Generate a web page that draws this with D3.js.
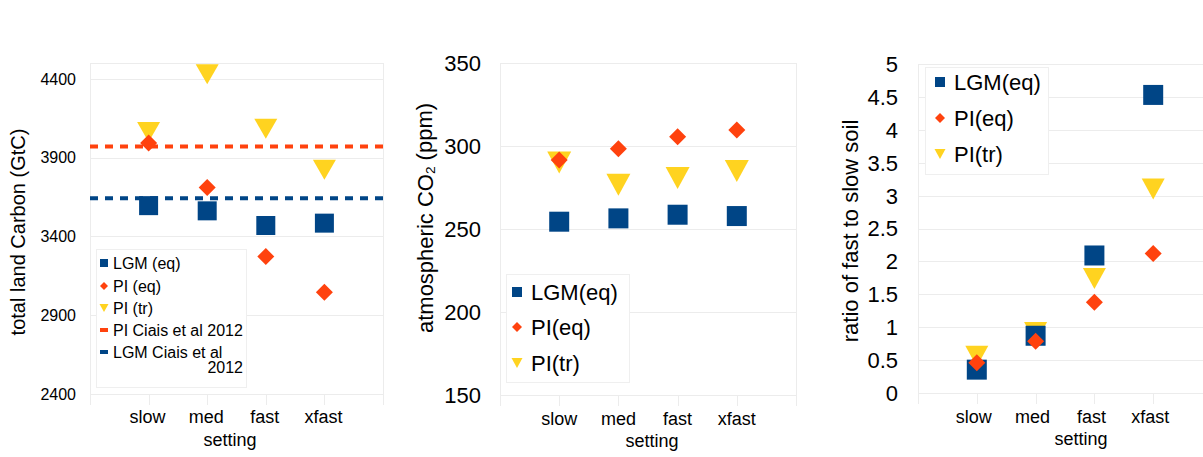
<!DOCTYPE html>
<html lang="en">
    <head>
        <meta charset="UTF-8">
        <title>Soil carbon settings</title>
        <style>
        body {
            margin: 0;
            background: #fff;
            overflow: hidden;
        }

        svg text {
            font-family: "Liberation Sans", Arial, sans-serif;
            fill: #000;
        }

        .grid {
            stroke: #ececec;
            stroke-width: 1px;
            shape-rendering: crispEdges;
        }

        .legend-box {
            fill: #fff;
            stroke: #efefef;
            stroke-width: 1px;
            shape-rendering: crispEdges;
        }
        </style>
    </head>
    <body>
        <svg></svg>
        <script src="https://d3js.org/d3.v7.min.js"></script>
        <script>
    // Chart values
    const categories = ["slow", "med", "fast", "xfast"];

    const landLGMeq = [3595, 3562, 3469, 3484];
    const landPIeq = [3992, 3710, 3272, 3046];
    const landPItr = [4063, 4428, 4083, 3822];
    const ciaisPI = 3970;
    const ciaisLGM = 3642;
    const landTicks = [2400, 2900, 3400, 3900, 4400];

    const co2LGMeq = [254.4, 256.4, 258.6, 257.8];
    const co2PIeq = [291.6, 298.4, 305.6, 309.6];
    const co2PItr = [290, 276.7, 280.7, 285];
    const co2Ticks = [150, 200, 250, 300, 350];

    const ratioLGMeq = [0.355, 0.87, 2.09, 4.53];
    const ratioPIeq = [0.46, 0.785, 1.38, 2.12];
    const ratioPItr = [0.56, 0.92, 1.74, 3.10];
    const ratioTicks = [0, 0.5, 1, 1.5, 2, 2.5, 3, 3.5, 4, 4.5, 5];

    const navy = "#004586", orange = "#ff420e", yellow = "#ffd320";

    const width = 1203, height = 457;
    const svg = d3.select("svg")
        .attr("width", width)
        .attr("height", height);

    // marker shapes, centred on 0,0
    function squarePath(s) {
        const h = s / 2;
        return `M${-h},${-h}H${h}V${h}H${-h}Z`;
    }
    function diamondPath(s) {
        const h = s / 2;
        return `M0,${-h}L${h},0L0,${h}L${-h},0Z`;
    }
    function trianglePath(w, hgt) {
        return `M${-w / 2},${-hgt / 2}L${w / 2},${-hgt / 2}L0,${hgt / 2}Z`;
    }

    function drawPanel(p) {
        const g = svg.append("g");
        const x = d3.scaleLinear().domain([0, 5]).range([p.left, p.right]);
        const y = d3.scaleLinear().domain(p.domain).range([p.bottom, p.top]);

        // horizontal grid at ticks plus the top edge
        g.selectAll(".hgrid")
            .data(p.ticks.concat([p.domain[1]]))
            .enter().append("line")
            .attr("class", "grid")
            .attr("x1", p.left).attr("x2", p.right)
            .attr("y1", d => Math.round(y(d)) + 0.5)
            .attr("y2", d => Math.round(y(d)) + 0.5);

        // side edges and category tick marks hanging under the plot
        g.selectAll(".vgrid")
            .data([0, 5])
            .enter().append("line")
            .attr("class", "grid")
            .attr("x1", d => Math.round(x(d)) + 0.5).attr("x2", d => Math.round(x(d)) + 0.5)
            .attr("y1", p.top).attr("y2", p.bottom + 11);

        g.selectAll(".xtick")
            .data(categories)
            .enter().append("line")
            .attr("class", "grid")
            .attr("x1", (d, i) => Math.round(x(i + 1)) + 0.5)
            .attr("x2", (d, i) => Math.round(x(i + 1)) + 0.5)
            .attr("y1", p.bottom).attr("y2", p.bottom + 11);

        // y tick labels
        g.selectAll(".ylab")
            .data(p.ticks)
            .enter().append("text")
            .attr("x", p.tickX)
            .attr("y", d => y(d))
            .attr("dy", "0.36em")
            .attr("text-anchor", "end")
            .style("font-size", p.tickSize + "px")
            .text(d => String(d));

        // x category labels
        g.selectAll(".xlab")
            .data(categories)
            .enter().append("text")
            .attr("x", (d, i) => x(i + 1) + p.catShift)
            .attr("y", p.catY)
            .attr("text-anchor", "middle")
            .style("font-size", "18px")
            .text(d => d);

        g.append("text")
            .attr("x", p.settingX)
            .attr("y", p.settingY)
            .attr("text-anchor", "middle")
            .style("font-size", "18px")
            .text("setting");

        // y axis title
        const yt = g.append("text")
            .attr("transform", `translate(${p.titleX},${p.titleY}) rotate(-90)`)
            .attr("dy", "0.36em")
            .attr("text-anchor", "middle")
            .style("font-size", p.titleSize + "px");
        p.title.forEach(part => {
            const t = yt.append("tspan").text(part.text);
            if (part.sub) t.style("font-size", "0.62em").attr("dy", "0.12em");
            if (part.after) t.attr("dy", "-0.12em");
        });

        // reference lines
        (p.refLines || []).forEach(r => {
            g.append("line")
                .attr("x1", p.left).attr("x2", p.right)
                .attr("y1", y(r.value)).attr("y2", y(r.value))
                .attr("stroke", r.color)
                .attr("stroke-width", 4)
                .attr("stroke-dasharray", "8,7");
        });

        // markers: triangles under squares under diamonds
        const marks = g.append("g");
        marks.selectAll(".tri")
            .data(p.tr)
            .enter().append("path")
            .attr("d", trianglePath(p.triW, p.triH))
            .attr("fill", yellow)
            .attr("transform", (d, i) => `translate(${x(i + 1)},${y(d)})`);
        marks.selectAll(".sq")
            .data(p.lgm)
            .enter().append("path")
            .attr("d", squarePath(p.sq))
            .attr("fill", navy)
            .attr("transform", (d, i) => `translate(${x(i + 1)},${y(d)})`);
        marks.selectAll(".dia")
            .data(p.pi)
            .enter().append("path")
            .attr("d", diamondPath(p.dia))
            .attr("fill", orange)
            .attr("transform", (d, i) => `translate(${x(i + 1)},${y(d)})`);

        // legend
        const L = p.legend;
        const lg = g.append("g");
        lg.append("rect")
            .attr("class", "legend-box")
            .attr("x", L.x + 0.5).attr("y", L.y + 0.5)
            .attr("width", L.w).attr("height", L.h);
        L.items.forEach((it, i) => {
            const cy = L.rows[i];
            let d;
            if (it.shape === "sq") d = squarePath(L.sym);
            else if (it.shape === "dia") d = diamondPath(L.sym);
            else if (it.shape === "tri") d = trianglePath(L.sym + 1, L.sym);
            else d = `M-4,-2H4V2H-4Z`;
            lg.append("path")
                .attr("d", d)
                .attr("fill", it.color)
                .attr("transform", `translate(${L.symX},${cy})`);
            const t = lg.append("text")
                .attr("x", L.textX)
                .attr("y", cy)
                .attr("dy", "0.35em")
                .style("font-size", L.size + "px")
                .text(it.label);
            if (it.label2) {
                lg.append("text")
                    .attr("x", L.x + L.w - 3)
                    .attr("y", cy + L.wrap)
                    .attr("dy", "0.35em")
                    .attr("text-anchor", "end")
                    .style("font-size", L.size + "px")
                    .text(it.label2);
            }
        });
    }

    drawPanel({
        left: 90, right: 383, top: 63, bottom: 394,
        domain: [2400, 4500], ticks: landTicks,
        tickX: 76, tickSize: 16,
        catY: 423, catShift: -1, settingX: 230, settingY: 446,
        titleX: 18, titleY: 232, titleSize: 20,
        title: [{text: "total land Carbon (GtC)"}],
        lgm: landLGMeq, pi: landPIeq, tr: landPItr,
        sq: 19, dia: 17, triW: 23, triH: 20,
        refLines: [{value: ciaisPI, color: orange}, {value: ciaisLGM, color: navy}],
        legend: {
            x: 96, y: 249, w: 150, h: 138, sym: 8, symX: 104, textX: 113, size: 16,
            rows: [263, 286, 308, 330, 352], wrap: 15.5,
            items: [
                {shape: "sq", color: navy, label: "LGM (eq)"},
                {shape: "dia", color: orange, label: "PI (eq)"},
                {shape: "tri", color: yellow, label: "PI (tr)"},
                {shape: "dash", color: orange, label: "PI Ciais et al 2012"},
                {shape: "dash", color: navy, label: "LGM Ciais et al", label2: "2012"}
            ]
        }
    });

    drawPanel({
        left: 500, right: 796, top: 63, bottom: 395,
        domain: [150, 350], ticks: co2Ticks,
        tickX: 481, tickSize: 22,
        catY: 425, catShift: 0, settingX: 652, settingY: 447,
        titleX: 425, titleY: 218, titleSize: 22,
        title: [{text: "atmospheric CO"}, {text: "2", sub: true}, {text: " (ppm)", after: true}],
        lgm: co2LGMeq, pi: co2PIeq, tr: co2PItr,
        sq: 20, dia: 17, triW: 24, triH: 22,
        legend: {
            x: 506, y: 274, w: 123, h: 108, sym: 10, symX: 517, textX: 531, size: 22,
            rows: [292, 327, 363],
            items: [
                {shape: "sq", color: navy, label: "LGM(eq)"},
                {shape: "dia", color: orange, label: "PI(eq)"},
                {shape: "tri", color: yellow, label: "PI(tr)"}
            ]
        }
    });

    drawPanel({
        left: 918, right: 1212, top: 64, bottom: 393,
        domain: [0, 5], ticks: ratioTicks,
        tickX: 898, tickSize: 22,
        catY: 423, catShift: -3, settingX: 1081, settingY: 445,
        titleX: 850, titleY: 231, titleSize: 22,
        title: [{text: "ratio of fast to slow soil"}],
        lgm: ratioLGMeq, pi: ratioPIeq, tr: ratioPItr,
        sq: 20, dia: 17, triW: 23, triH: 21,
        legend: {
            x: 925, y: 67, w: 123, h: 107, sym: 10, symX: 940, textX: 954, size: 22,
            rows: [82, 118, 154],
            items: [
                {shape: "sq", color: navy, label: "LGM(eq)"},
                {shape: "dia", color: orange, label: "PI(eq)"},
                {shape: "tri", color: yellow, label: "PI(tr)"}
            ]
        }
    });
        </script>
    </body>
</html>
